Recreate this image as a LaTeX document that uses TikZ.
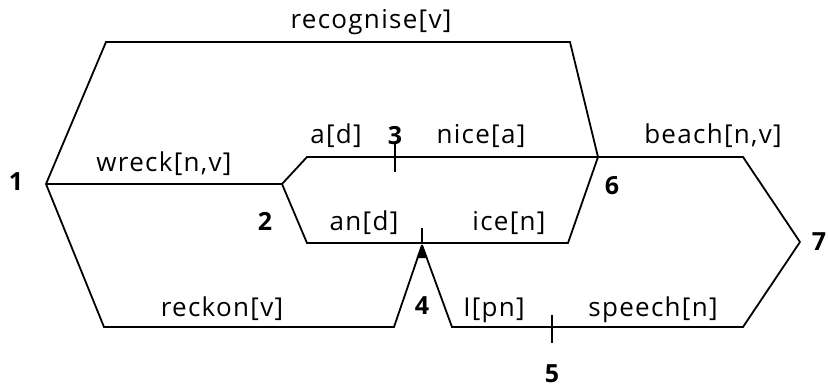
\documentclass[tikz,border=0pt]{standalone}
\usepackage{fontspec}
\setmainfont{Open Sans}
\newfontfamily\wordfont[LetterSpace=5]{Open Sans}
\usetikzlibrary{arrows.meta}
\begin{document}
\begin{tikzpicture}[x=1pt,y=-1pt,
  edge/.style={line width=1.8pt,line join=miter},
  tickmark/.style={line width=1.4pt},
  wordlbl/.style={font=\wordfont\fontsize{26}{30}\selectfont,inner sep=0pt,anchor=base},
  numlbl/.style={font=\fontsize{25}{28}\selectfont\bfseries,inner sep=0pt}]
\useasboundingbox (0,0) rectangle (828,389);
% states
\coordinate (n1) at (46,184);
\coordinate (n2) at (282,184);
\coordinate (n6) at (598,157);
\coordinate (n7) at (800,242);
\coordinate (n4) at (422,245);
% corners
\coordinate (r1) at (106,42);
\coordinate (r2) at (570,42);
\coordinate (a1) at (307,157);
\coordinate (b1) at (307,243);
\coordinate (b2) at (568,243);
\coordinate (k1) at (104,327);
\coordinate (k2) at (394,327);
\coordinate (p1) at (452,327);
\coordinate (p2) at (743,327);
\coordinate (h1) at (743,157);
\coordinate (t3) at (395,157);
\coordinate (t4) at (422,243);
\coordinate (t5) at (552,327);
% paths
\draw[edge] (n1) -- (r1) -- (r2) -- (n6);
\draw[edge] (n1) -- (n2);
\draw[edge] (n2) -- (a1) -- (n6);
\draw[edge] (n2) -- (b1) -- (b2) -- (n6);
\draw[edge] (n1) -- (k1) -- (k2) -- (n4);
\draw[edge] (n4) -- (p1) -- (p2) -- (n7);
\draw[edge] (n6) -- (h1) -- (n7);
\fill (n4) -- ++(-5.5,13) -- ++(11,0) -- cycle;
% ticks
\draw[tickmark] (t3) ++(0,-13) -- ++(0,28);
\draw[tickmark] (t4) ++(0,-15) -- ++(0,16);
\draw[tickmark] (t5) ++(0,-12) -- ++(0,28);
% word labels
\node[wordlbl] (lrec) at (371,28) {recognise[v]};
\node[wordlbl] (lwr) at (164,171) {wreck[n,v]};
\node[wordlbl] (la) at (336,143) {a[d]};
\node[wordlbl] (lnice) at (481,143) {nice[a]};
\node[wordlbl] (lbeach) at (713,143) {beach[n,v]};
\node[wordlbl] (lan) at (364,230) {an[d]};
\node[wordlbl] (lice) at (509,230) {ice[n]};
\node[wordlbl] (lreck) at (222,316) {reckon[v]};
\node[wordlbl] (lI) at (494,316) {I[pn]};
\node[wordlbl] (lsp) at (653,316) {speech[n]};
% state numbers
\node[numlbl] (s1) at (16,182) {1};
\node[numlbl] (s2) at (265,221) {2};
\node[numlbl] (s3) at (395,136) {3};
\node[numlbl] (s4) at (422,306) {4};
\node[numlbl] (s5) at (552,374) {5};
\node[numlbl] (s6) at (612,186) {6};
\node[numlbl] (s7) at (819,242) {7};
\end{tikzpicture}
\end{document}
